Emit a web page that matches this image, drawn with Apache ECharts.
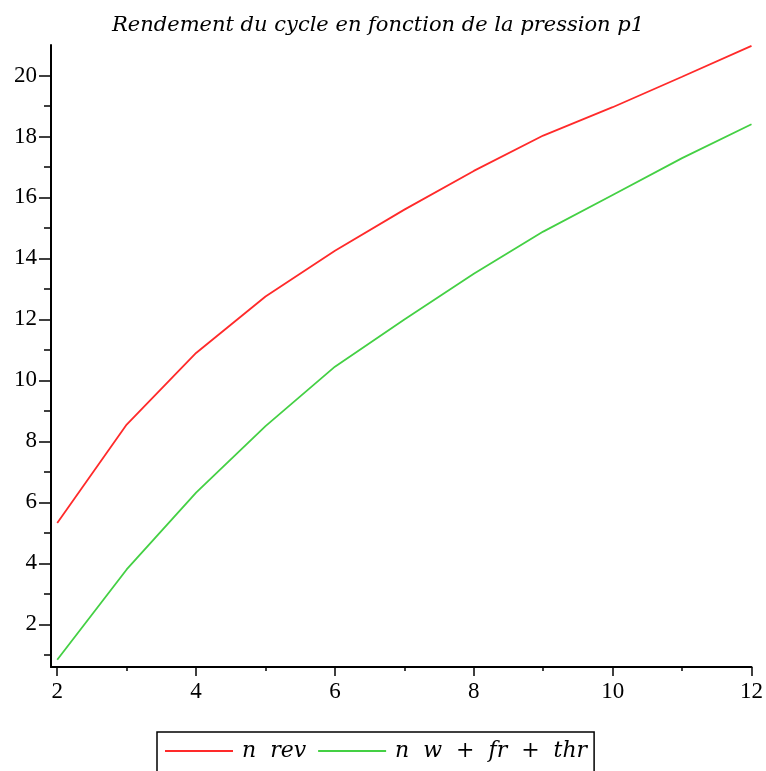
<!DOCTYPE html>
<html>
<head>
<meta charset="utf-8">
<script src="https://cdn.jsdelivr.net/npm/echarts@6/dist/echarts.min.js"></script>
<style>
html,body{margin:0;padding:0;background:#fff;}
#chart{width:766px;height:771px;}
</style>
</head>
<body>
<div id="chart"></div>
<script>
// Data
var pressures = [2, 3, 4, 5, 6, 7, 8, 9, 10, 11, 12];
var nRev = [5.32, 8.55, 10.9, 12.75, 14.25, 15.6, 16.87, 18.03, 18.96, 19.96, 20.97];
var nWFrThr = [0.84, 3.8, 6.32, 8.5, 10.45, 12.0, 13.5, 14.88, 16.08, 17.29, 18.4];
var xMajorTicks = [2, 4, 6, 8, 10, 12];
var xMinorTicks = [3, 5, 7, 9, 11];
var yMajorTicks = [2, 4, 6, 8, 10, 12, 14, 16, 18, 20];
var yMinorTicks = [1, 3, 5, 7, 9, 11, 13, 15, 17, 19];
var seriesNames = ['n rev', 'n w + fr + thr'];
var titleText = 'Rendement du cycle en fonction de la pression p1';

function pairs(xs, ys) { return xs.map(function (x, i) { return [x, ys[i]]; }); }

var X_MIN = 1.91, X_MAX = 12, Y_MIN = 0.6, Y_MAX = 21;
var serif = '"Liberation Serif", "Times New Roman", serif';
var wideSerif = '"DejaVu Serif", serif';

var chart = echarts.init(document.getElementById('chart'));
chart.setOption({
  animation: false,
  backgroundColor: '#fff',
  title: {
    text: titleText,
    left: 107, top: 10,
    textStyle: { fontFamily: wideSerif, fontStyle: 'italic', fontWeight: 'normal', fontSize: 21, color: '#000' }
  },
  legend: {
    data: seriesNames,
    left: 157, top: 732,
    orient: 'horizontal',
    icon: 'rect',
    itemWidth: 68, itemHeight: 2,
    itemGap: 12,
    borderColor: '#000', borderWidth: 1.5,
    padding: [8, 7, 20, 8],
    formatter: function (name) { return name.replace(/ /g, '  '); },
    textStyle: { fontFamily: wideSerif, fontStyle: 'italic', fontSize: 22, color: '#000', padding: [0, 0, 0, 4] }
  },
  grid: { left: 51, right: 13, top: 45, bottom: 104, containLabel: false },
  xAxis: [
    {
      type: 'value', min: X_MIN, max: X_MAX,
      axisLine: { onZero: false, lineStyle: { color: '#000', width: 2 } },
      axisTick: { show: true, customValues: xMajorTicks, length: 9, lineStyle: { color: '#000', width: 1.5 } },
      axisLabel: { customValues: xMajorTicks, margin: 13, fontFamily: serif, fontSize: 23, color: '#000' },
      splitLine: { show: false }
    },
    {
      type: 'value', min: X_MIN, max: X_MAX, position: 'bottom',
      axisLine: { show: false, onZero: false },
      axisTick: { show: true, customValues: xMinorTicks, length: 4, lineStyle: { color: '#000', width: 1.5 } },
      axisLabel: { show: false },
      splitLine: { show: false }
    }
  ],
  yAxis: [
    {
      type: 'value', min: Y_MIN, max: Y_MAX,
      axisLine: { show: true, onZero: false, lineStyle: { color: '#000', width: 2 } },
      axisTick: { show: true, customValues: yMajorTicks, length: 12, lineStyle: { color: '#000', width: 1.5 } },
      axisLabel: { customValues: yMajorTicks, margin: 14, fontFamily: serif, fontSize: 23, color: '#000' },
      splitLine: { show: false }
    },
    {
      type: 'value', min: Y_MIN, max: Y_MAX, position: 'left',
      axisLine: { show: false, onZero: false },
      axisTick: { show: true, customValues: yMinorTicks, length: 7, lineStyle: { color: '#000', width: 1.5 } },
      axisLabel: { show: false },
      splitLine: { show: false }
    }
  ],
  series: [
    {
      name: seriesNames[0], type: 'line', xAxisIndex: 0, yAxisIndex: 0,
      data: pairs(pressures, nRev), showSymbol: false, symbol: 'none',
      lineStyle: { color: '#ff2a2a', width: 1.8 }, itemStyle: { color: '#ff2a2a' }
    },
    {
      name: seriesNames[1], type: 'line', xAxisIndex: 0, yAxisIndex: 0,
      data: pairs(pressures, nWFrThr), showSymbol: false, symbol: 'none',
      lineStyle: { color: '#44d044', width: 1.8 }, itemStyle: { color: '#44d044' }
    }
  ]
});
</script>
</body>
</html>
